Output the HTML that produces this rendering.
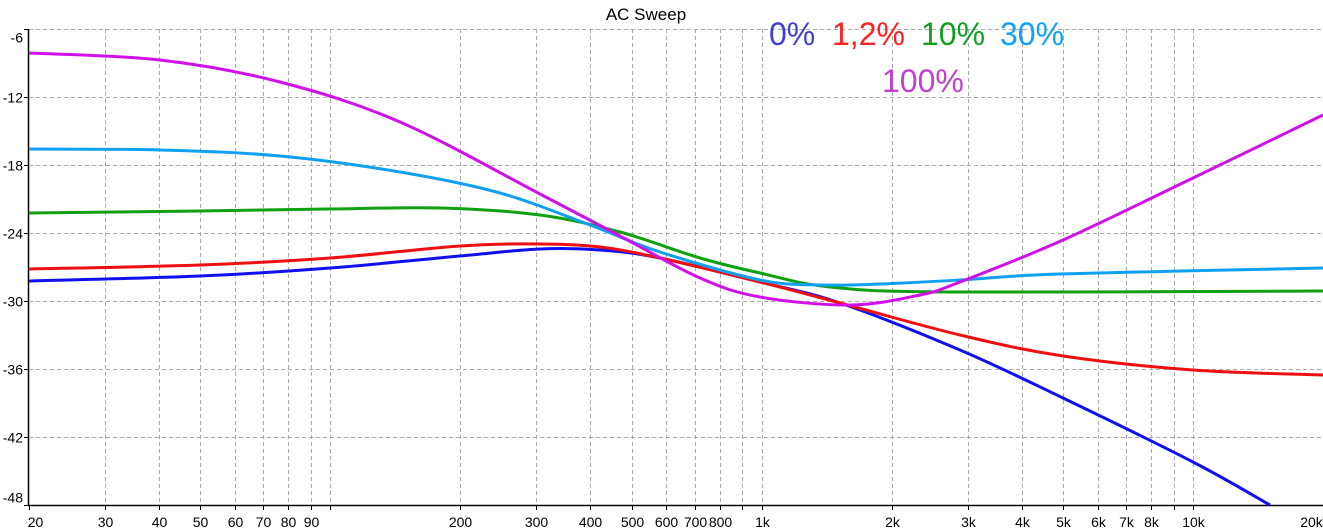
<!DOCTYPE html><html><head><style>body{margin:0;background:#fff}svg{display:block}</style></head><body>
<svg id="s" width="1323" height="532" xmlns="http://www.w3.org/2000/svg" font-family="Liberation Sans, sans-serif">
<rect width="1323" height="532" fill="#fff"/>
<g id="grid" stroke="#aaa" stroke-dasharray="4,3" stroke-width="1"></g>
<g id="lab" font-size="14" fill="#000"></g>
<line x1="28.5" y1="29" x2="28.5" y2="506" stroke="#000" stroke-width="1.5"/>
<line x1="28" y1="505.5" x2="1323" y2="505.5" stroke="#000" stroke-width="1.5"/>
<text x="646" y="20" font-size="17" text-anchor="middle">AC Sweep</text>
<g font-family="Liberation Sans, DejaVu Sans, sans-serif" font-size="32">
<text x="769" y="45" fill="#4040d0">0%</text>
<text x="832" y="45" fill="#ff2020">1,2%</text>
<text x="921" y="45" fill="#10a020">10%</text>
<text x="1000" y="45" fill="#10a0ff">30%</text>
<text x="882" y="92" fill="#c040d0">100%</text>
</g>
<g id="curves" fill="none" stroke-width="3" stroke-linejoin="round"></g>
</svg>
<script>
const NS="http://www.w3.org/2000/svg";
const X=f=>28.7+431.5*Math.log10(f/20);
const g=document.getElementById('grid'),lab=document.getElementById('lab');
function el(p,t,a){const e=document.createElementNS(NS,t);for(const k in a)e.setAttribute(k,a[k]);p.appendChild(e);return e;}
for(let i=0;i<8;i++){const y=29.5+i*68;if(i<7)el(g,'line',{x1:29,y1:y,x2:1323,y2:y});
const ty=i==0?y+13:(i==7?y-3:y+5);
const t=el(lab,'text',{x:23,y:ty,'text-anchor':'end'});t.textContent=(-6-6*i);
el(lab,'line',{x1:24,y1:y,x2:29,y2:y,stroke:'#000'});}
const fs=[20,30,40,50,60,70,80,90,100,200,300,400,500,600,700,800,900,1000,2000,3000,4000,5000,6000,7000,8000,9000,10000,20000];
const lbl={20:'20',30:'30',40:'40',50:'50',60:'60',70:'70',80:'80',90:'90',200:'200',300:'300',400:'400',500:'500',600:'600',700:'700',800:'800',1000:'1k',2000:'2k',3000:'3k',4000:'4k',5000:'5k',6000:'6k',7000:'7k',8000:'8k',10000:'10k',20000:'20k'};
fs.forEach(f=>{const x=Math.round(X(f))+0.5;if(f>20&&f<20000)el(g,'line',{x1:x,y1:29,x2:x,y2:505});
el(lab,'line',{x1:x,y1:505,x2:x,y2:510,stroke:'#000'});
if(lbl[f]){const ax=f==20?x+6:(f==20000?x-12:x);const t=el(lab,'text',{x:ax,y:527,'text-anchor':'middle'});t.textContent=lbl[f];}});
const S={
'#1010ee':[[29,281],[200,276],[330,268],[460,256],[540,249],[600,250],[660,258],[760,282],[840,303],[960,350],[1063,398],[1193,462],[1270,505]],
'#ee1010':[[29,269],[200,265],[330,258],[460,246],[540,244],[600,247],[660,258],[760,282],[840,303],[960,335],[1063,356],[1193,370],[1323,375]],
'#10a010':[[29,213],[200,211],[330,209],[440,208],[540,215],[620,232],[700,258],[760,273],[830,287],[950,292],[1323,291]],
'#10a0f0':[[29,149],[160,150],[280,156],[400,172],[500,193],[590,225],[660,252],[760,280],[820,285],[880,284],[960,280],[1060,274],[1323,268]],
'#d010e8':[[29,53],[160,60],[280,82],[400,122],[540,194],[620,236],[700,278],[760,297],[850,305],[920,295],[960,282],[1063,240],[1193,178],[1323,115]]};
const c=document.getElementById('curves');
for(const col in S){const p=S[col];let d='M'+p[0];
for(let i=0;i<p.length-1;i++){const a=p[i-1]||p[i],b=p[i],e=p[i+1],f=p[i+2]||e;
d+=' C'+(b[0]+(e[0]-a[0])/6)+','+(b[1]+(e[1]-a[1])/6)+' '+(e[0]-(f[0]-b[0])/6)+','+(e[1]-(f[1]-b[1])/6)+' '+e;}
el(c,'path',{d:d,stroke:col});}
</script>
</body></html>
